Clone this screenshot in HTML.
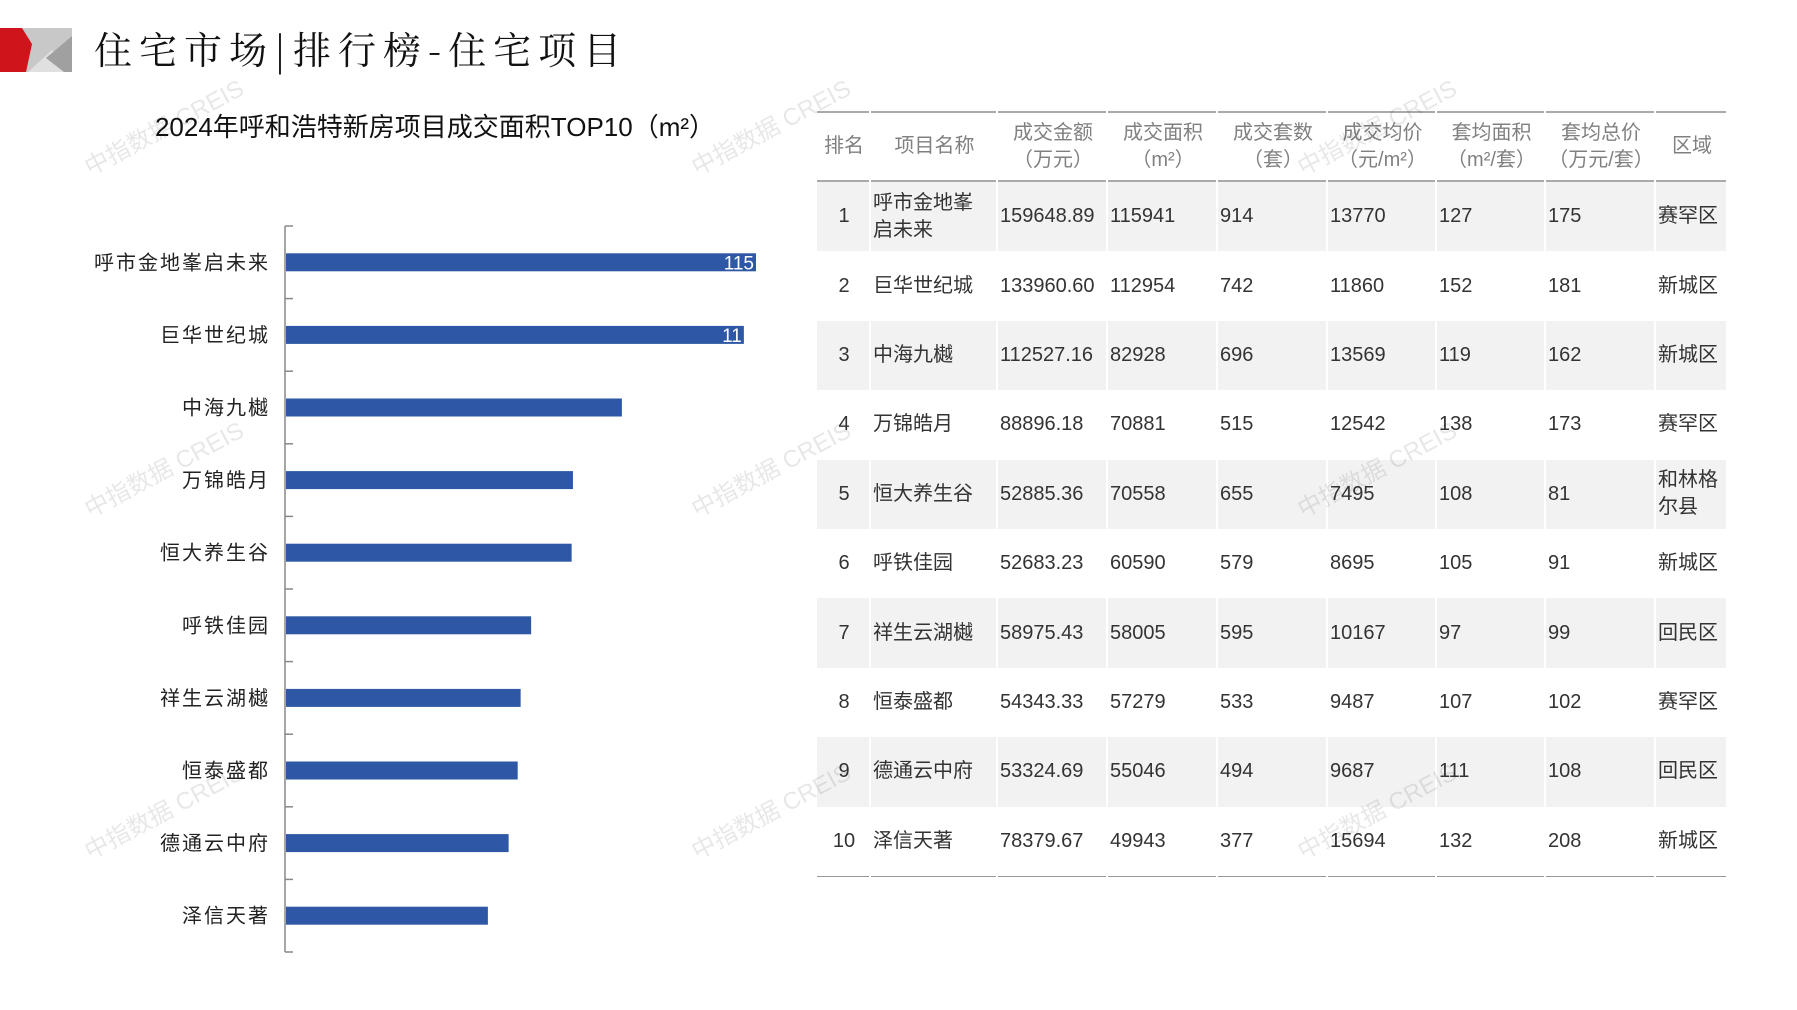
<!DOCTYPE html>
<html><head><meta charset="utf-8"><style>
body{margin:0;width:1797px;height:1010px;background:#fff;position:relative;overflow:hidden;font-family:"Liberation Sans","Noto Sans CJK SC",sans-serif;}
.wm{position:absolute;color:#000;opacity:0.09;font-size:24px;transform:rotate(-28deg);white-space:nowrap;}
table{position:absolute;left:815px;top:111px;border-collapse:separate;border-spacing:2px 0;font-family:"Liberation Sans","Noto Sans CJK SC",sans-serif;}
td,th{padding:0 0 0 2px;font-size:20px;color:#333;font-weight:normal;text-align:left;vertical-align:middle;height:69.4px;line-height:27px;}
th{color:#808080;text-align:center;height:67px;border-top:2px solid #aaa;border-bottom:2px solid #aaa;line-height:27px;}
tr.s td{background:#f2f2f2;}
tbody tr:last-child td{border-bottom:1.5px solid #999;}
td.r{text-align:center;}
</style></head><body>
<svg style="position:absolute;left:0;top:28px" width="72" height="44">
<rect x="0" y="0" width="72" height="44" fill="#c8c8c8"/>
<polygon points="28,44 72,44 52,22" fill="#e0e0e0"/>
<polygon points="46,30 72,8 72,44 64,44" fill="#a0a0a0"/>
<polygon points="0,0 22,0 32,16 26,44 0,44" fill="#d0141c"/>
</svg>
<div style="position:absolute;left:94px;top:20px;font-size:38px;letter-spacing:7px;color:#111;font-family:'Noto Serif CJK SC','Noto Sans CJK SC',serif">住宅市场|排行榜-住宅项目</div>
<div style="position:absolute;left:115px;top:107px;width:640px;text-align:center;font-size:26px;color:#111">2024年呼和浩特新房项目成交面积TOP10（m²）</div>
<svg id="chart" style="position:absolute;left:0;top:0" width="800" height="1010"></svg>
<table>
<colgroup><col style="width:52px"><col style="width:125px"><col style="width:108px"><col style="width:108px"><col style="width:108px"><col style="width:107px"><col style="width:107px"><col style="width:108px"><col style="width:70px"></colgroup>
<thead><tr><th>排名</th><th>项目名称</th><th>成交金额<br>（万元）</th><th>成交面积<br>（m²）</th><th>成交套数<br>（套）</th><th>成交均价<br>（元/m²）</th><th>套均面积<br>（m²/套）</th><th>套均总价<br>（万元/套）</th><th>区域</th></tr></thead>
<tbody>
<tr class="s"><td class="r">1</td><td>呼市金地峯<br>启未来</td><td>159648.89</td><td>115941</td><td>914</td><td>13770</td><td>127</td><td>175</td><td>赛罕区</td></tr>
<tr><td class="r">2</td><td>巨华世纪城</td><td>133960.60</td><td>112954</td><td>742</td><td>11860</td><td>152</td><td>181</td><td>新城区</td></tr>
<tr class="s"><td class="r">3</td><td>中海九樾</td><td>112527.16</td><td>82928</td><td>696</td><td>13569</td><td>119</td><td>162</td><td>新城区</td></tr>
<tr><td class="r">4</td><td>万锦皓月</td><td>88896.18</td><td>70881</td><td>515</td><td>12542</td><td>138</td><td>173</td><td>赛罕区</td></tr>
<tr class="s"><td class="r">5</td><td>恒大养生谷</td><td>52885.36</td><td>70558</td><td>655</td><td>7495</td><td>108</td><td>81</td><td>和林格<br>尔县</td></tr>
<tr><td class="r">6</td><td>呼铁佳园</td><td>52683.23</td><td>60590</td><td>579</td><td>8695</td><td>105</td><td>91</td><td>新城区</td></tr>
<tr class="s"><td class="r">7</td><td>祥生云湖樾</td><td>58975.43</td><td>58005</td><td>595</td><td>10167</td><td>97</td><td>99</td><td>回民区</td></tr>
<tr><td class="r">8</td><td>恒泰盛都</td><td>54343.33</td><td>57279</td><td>533</td><td>9487</td><td>107</td><td>102</td><td>赛罕区</td></tr>
<tr class="s"><td class="r">9</td><td>德通云中府</td><td>53324.69</td><td>55046</td><td>494</td><td>9687</td><td>111</td><td>108</td><td>回民区</td></tr>
<tr><td class="r">10</td><td>泽信天著</td><td>78379.67</td><td>49943</td><td>377</td><td>15694</td><td>132</td><td>208</td><td>新城区</td></tr>
</tbody></table>
<div id="wms"></div>
<script>
const categories=["呼市金地峯启未来","巨华世纪城","中海九樾","万锦皓月","恒大养生谷","呼铁佳园","祥生云湖樾","恒泰盛都","德通云中府","泽信天著"];
const areaValues=[115941,112954,82928,70881,70558,60590,58005,57279,55046,49943];
const valueLabels=["115","11","","","","","","","",""];
const NS="http://www.w3.org/2000/svg";
const svg=document.getElementById('chart');
const x0=285,top0=226,band=72.6,barH=18;
const xScale=v=>x0+v*(471/115941);
const yScale=i=>top0+band*i+band/2;
function mk(t,a){const e=document.createElementNS(NS,t);for(const k in a)e.setAttribute(k,a[k]);svg.appendChild(e);return e;}
const ax=mk('line',{x1:x0,y1:top0,x2:x0,y2:top0+band*categories.length,stroke:'#888','stroke-width':1.5});


for(let i=0;i<=categories.length;i++){
 const t=mk('line',{x1:x0,y1:top0+band*i,x2:x0+8,y2:top0+band*i,stroke:'#888','stroke-width':1.5});
 
 
}
categories.forEach((c,i)=>{
 const y=yScale(i);
 const r=mk('rect',{x:x0+1,y:y-barH/2,width:xScale(areaValues[i])-x0-1,height:barH,fill:'#2e57a6'});
 
 
 const l=mk('text',{x:270,y:y+7,'text-anchor':'end','font-size':20,fill:'#222','letter-spacing':2});
 l.textContent=c;
 
 
 if(valueLabels[i]){
  const v=mk('text',{x:xScale(areaValues[i])-2,y:y+7,'text-anchor':'end','font-size':19,fill:'#fff'});
  v.textContent=valueLabels[i];
  
  
 }
});
const wm=document.getElementById('wms');
[[75,108],[682,108],[1288,108],[75,450],[682,450],[1288,450],[75,792],[682,792],[1288,792]].forEach(p=>{
 const d=document.createElement('div');d.className='wm';d.style.left=p[0]+'px';d.style.top=p[1]+'px';d.textContent='中指数据 CREIS';
 
 
 wm.appendChild(d);
});
</script>
</body></html>
